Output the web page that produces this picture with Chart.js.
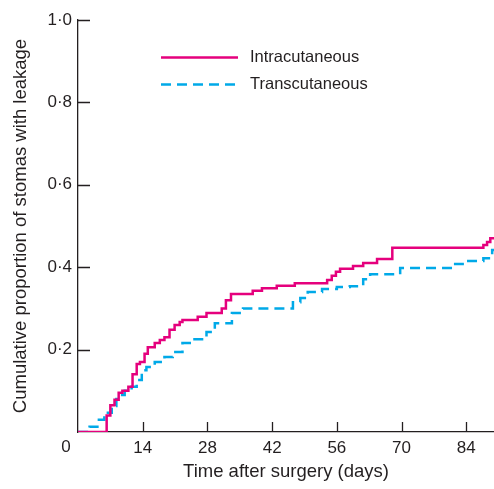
<!DOCTYPE html>
<html>
<head>
<meta charset="utf-8">
<script src="https://cdn.jsdelivr.net/npm/chart.js@4"></script>
<style>
  html, body { margin: 0; padding: 0; background: #fff; }
  #wrap { width: 494px; height: 489px; position: relative; }
</style>
</head>
<body>
<div id="wrap"><canvas id="stomaChart"></canvas></div>
<script>
// Kaplan-Meier style curves (day of step, cumulative proportion)
const intraDays = [0, 6.2, 7.0, 7.9, 8.8, 9.6, 10.9, 11.8, 12.7, 13.4, 14.4, 15.1, 16.6, 17.7, 18.7, 19.8, 20.9, 22.0, 22.6, 25.9, 27.8, 31.1, 32.0, 33.1, 37.8, 39.8, 43.0, 46.9, 53.9, 54.9, 55.8, 56.7, 59.5, 61.7, 64.7, 68.0, 87.7, 88.5, 89.2, 90];
const intraValues = [0, 0.04, 0.065, 0.078, 0.095, 0.10, 0.11, 0.14, 0.165, 0.17, 0.19, 0.206, 0.216, 0.223, 0.23, 0.248, 0.26, 0.267, 0.272, 0.28, 0.289, 0.30, 0.32, 0.335, 0.343, 0.349, 0.355, 0.361, 0.369, 0.379, 0.389, 0.396, 0.403, 0.41, 0.42, 0.447, 0.454, 0.461, 0.47, 0.47];

const transDays = [0, 2.5, 4.2, 5.7, 7.3, 8.3, 9.0, 10.1, 11.6, 12.7, 13.8, 14.8, 16.6, 18.7, 20.5, 22.6, 25.2, 27.8, 29.6, 33.3, 35.7, 46.5, 48.1, 49.7, 52.8, 56.0, 58.8, 61.7, 63.2, 69.7, 81.6, 84.0, 87.7, 89.6, 90];
const transValues = [0, 0.013, 0.03, 0.047, 0.063, 0.08, 0.09, 0.10, 0.11, 0.126, 0.15, 0.158, 0.17, 0.182, 0.194, 0.216, 0.225, 0.243, 0.264, 0.289, 0.30, 0.315, 0.325, 0.34, 0.347, 0.352, 0.354, 0.371, 0.383, 0.398, 0.408, 0.415, 0.422, 0.442, 0.442];

const seriesNames = ['Intracutaneous', 'Transcutaneous'];
const xTicks = [0, 14, 28, 42, 56, 70, 84];
const yTicks = [0.2, 0.4, 0.6, 0.8, 1.0];

const INK = '#231f20';
const FONT = '"Liberation Sans", Arial, sans-serif';

function toPoints(xs, ys) {
    return xs.map((x, i) => ({ x: x, y: ys[i] }));
}

// inward tick marks, origin "0" and the legend
const decorations = {
    id: 'decorations',
    afterDraw(chart) {
        const ctx = chart.ctx;
        const xs = chart.scales.x;
        const ys = chart.scales.y;
        const area = chart.chartArea;

        ctx.save();
        ctx.strokeStyle = INK;
        ctx.lineWidth = 1.3;
        ctx.beginPath();
        yTicks.forEach(v => {
            const py = Math.round(ys.getPixelForValue(v)) + 0.5;
            ctx.moveTo(area.left, py);
            ctx.lineTo(area.left + 12, py);
        });
        xTicks.forEach(v => {
            if (v === 0) return;
            const px = Math.round(xs.getPixelForValue(v)) + 0.5;
            ctx.moveTo(px, area.bottom);
            ctx.lineTo(px, area.bottom - 10);
        });
        ctx.stroke();

        ctx.fillStyle = INK;
        ctx.font = '17px ' + FONT;
        ctx.textAlign = 'center';
        ctx.textBaseline = 'middle';
        ctx.fillText('0', area.left - 12, area.bottom + 15);

        // legend
        ctx.font = '16.5px ' + FONT;
        const rows = [57, 84];
        chart.data.datasets.forEach((ds, i) => {
            const y = rows[i] + 0.5;
            ctx.strokeStyle = ds.borderColor;
            ctx.lineWidth = ds.borderWidth;
            ctx.setLineDash(ds.borderDash || []);
            ctx.beginPath();
            ctx.moveTo(161, y);
            ctx.lineTo(238, y);
            ctx.stroke();
            ctx.setLineDash([]);
            ctx.textAlign = 'left';
            ctx.fillText(ds.label, 250, y);
        });
        ctx.restore();
    }
};

const chart = new Chart(document.getElementById('stomaChart'), {
    type: 'line',
    data: {
        datasets: [{
            label: seriesNames[0],
            data: toPoints(intraDays, intraValues),
            borderColor: '#e5007d',
            borderWidth: 2.5,
            stepped: true,
            pointRadius: 0,
            fill: false
        }, {
            label: seriesNames[1],
            data: toPoints(transDays, transValues),
            borderColor: '#00a9e8',
            borderWidth: 2.5,
            borderDash: [10, 6],
            stepped: true,
            pointRadius: 0,
            fill: false
        }]
    },
    options: {
        responsive: true,
        maintainAspectRatio: false,
        animation: false,
        layout: { padding: { top: 20, right: 0, left: 0, bottom: 0 } },
        plugins: {
            legend: { display: false },
            tooltip: { enabled: false }
        },
        scales: {
            x: {
                type: 'linear',
                min: 0,
                max: 90,
                afterBuildTicks: scale => { scale.ticks = xTicks.map(v => ({ value: v })); },
                afterFit: scale => { scale.height = 57; },
                grid: { display: false, drawTicks: false, tickLength: 0 },
                border: { display: true, color: INK, width: 1.3 },
                ticks: {
                    color: INK,
                    font: { family: FONT, size: 17 },
                    padding: 6,
                    maxRotation: 0,
                    callback: v => (v === 0 ? '' : String(v))
                },
                title: {
                    display: true,
                    text: 'Time after surgery (days)',
                    color: INK,
                    font: { family: FONT, size: 18.5 },
                    padding: { top: 4, bottom: 6 }
                }
            },
            y: {
                min: 0,
                max: 1,
                afterBuildTicks: scale => { scale.ticks = yTicks.map(v => ({ value: v })); },
                afterFit: scale => { scale.width = 78; },
                grid: { display: false, drawTicks: false, tickLength: 0 },
                border: { display: true, color: INK, width: 1.3 },
                ticks: {
                    color: INK,
                    font: { family: FONT, size: 17 },
                    padding: 6,
                    callback: v => v.toFixed(1).replace('.', '\u00b7')
                },
                title: {
                    display: true,
                    text: 'Cumulative proportion of stomas with leakage',
                    color: INK,
                    font: { family: FONT, size: 18.5 },
                    padding: { top: 10, bottom: 4 }
                }
            }
        }
    },
    plugins: [decorations]
});
</script>
</body>
</html>
